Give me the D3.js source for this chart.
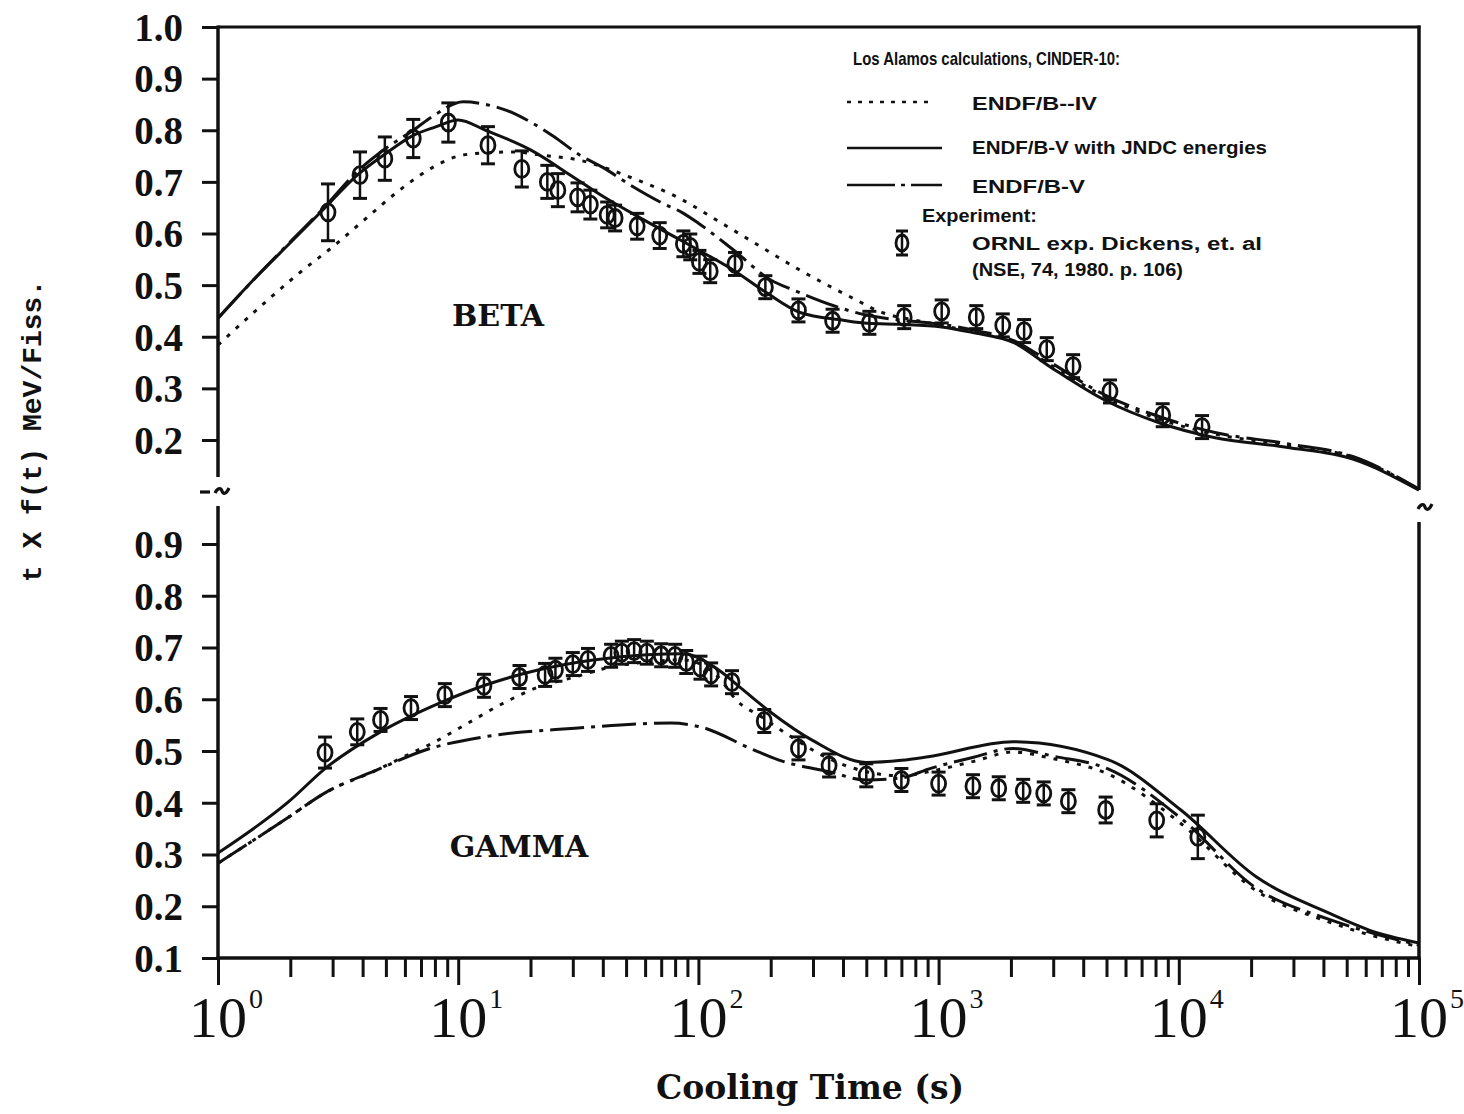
<!DOCTYPE html>
<html><head><meta charset="utf-8">
<script src="https://cdn.jsdelivr.net/npm/d3@7"></script>
<style>body{margin:0;background:#fff}svg{display:block}</style>
</head><body>
<svg id="chart" width="1464" height="1114"></svg>
<script>
// ---------------- DATA ----------------
// BETA panel calculations (t in s, value in MeV/fission * t)
const betaJndcT = [1, 1.5, 2, 2.7, 3.8, 5, 6.5, 8, 10, 13, 20, 30, 40, 60, 86, 100, 140, 194, 265, 400, 506, 700, 1030, 1360, 2070, 2930, 4930, 8330, 14000, 28000, 53000, 100000];
const betaJndcV = [0.436, 0.524, 0.582, 0.643, 0.713, 0.755, 0.79, 0.806, 0.82, 0.80, 0.762, 0.71, 0.672, 0.625, 0.585, 0.568, 0.529, 0.484, 0.447, 0.432, 0.426, 0.424, 0.419, 0.409, 0.388, 0.341, 0.277, 0.233, 0.205, 0.186, 0.163, 0.103];
const betaVT = [1, 1.5, 2, 2.7, 3.8, 5, 6.5, 8, 10.5, 13, 16, 20, 25, 32, 40, 52, 70, 86, 100, 140, 200, 250, 366, 500, 700, 1030, 1360, 2070, 2930, 4930, 8330, 14000, 28000, 53000, 100000];
const betaVV = [0.436, 0.524, 0.584, 0.645, 0.72, 0.765, 0.80, 0.83, 0.855, 0.85, 0.838, 0.816, 0.788, 0.752, 0.728, 0.694, 0.66, 0.64, 0.62, 0.568, 0.51, 0.49, 0.46, 0.442, 0.432, 0.424, 0.414, 0.392, 0.35, 0.287, 0.245, 0.215, 0.193, 0.168, 0.105];
const betaIVT = [1, 1.6, 2.2, 3, 4.2, 5.7, 7.9, 10, 12.7, 17, 22, 32, 52, 86, 120, 164, 265, 430, 590, 800, 1030, 1360, 2070, 2930, 4930, 8330, 14000, 28000, 53000, 100000];
const betaIVV = [0.384, 0.47, 0.525, 0.574, 0.632, 0.684, 0.729, 0.75, 0.756, 0.758, 0.752, 0.742, 0.709, 0.665, 0.625, 0.587, 0.529, 0.477, 0.446, 0.432, 0.422, 0.41, 0.39, 0.345, 0.284, 0.24, 0.212, 0.19, 0.167, 0.104];

// BETA experiment (ORNL, Dickens et al.)
const betaExpT = [2.87, 3.9, 4.95, 6.5, 9.1, 13.3, 18.4, 23.5, 26, 31.4, 35.5, 41.7, 45, 55.6, 69, 86.6, 92.5, 101, 112, 142, 190, 261, 362, 515, 719, 1030, 1435, 1850, 2270, 2820, 3630, 5170, 8570, 12500];
const betaExpV = [0.641, 0.713, 0.745, 0.784, 0.815, 0.771, 0.725, 0.70, 0.684, 0.67, 0.656, 0.636, 0.63, 0.614, 0.596, 0.58, 0.574, 0.545, 0.527, 0.541, 0.496, 0.451, 0.431, 0.427, 0.438, 0.449, 0.438, 0.422, 0.411, 0.376, 0.343, 0.294, 0.248, 0.225];
const betaExpErr = [0.055, 0.045, 0.042, 0.037, 0.038, 0.036, 0.035, 0.032, 0.032, 0.028, 0.028, 0.025, 0.025, 0.025, 0.025, 0.025, 0.025, 0.02, 0.02, 0.02, 0.02, 0.018, 0.015, 0.015, 0.015, 0.015, 0.015, 0.015, 0.015, 0.015, 0.015, 0.015, 0.015, 0.018];

// GAMMA panel calculations
const gamJndcT = [1, 1.98, 2.79, 4.67, 8.4, 13.1, 21.7, 36.5, 61, 86, 121, 150, 200, 300, 500, 700, 906, 2040, 5100, 10200, 21000, 42000, 62000, 100000];
const gamJndcV = [0.303, 0.403, 0.466, 0.535, 0.593, 0.628, 0.657, 0.676, 0.686, 0.688, 0.657, 0.622, 0.575, 0.52, 0.478, 0.482, 0.489, 0.518, 0.483, 0.386, 0.257, 0.187, 0.154, 0.129];
const gamVT = [1, 1.41, 1.98, 2.79, 4.67, 7.3, 13.1, 30.6, 77, 101, 170, 215, 350, 500, 700, 906, 1400, 2040, 3000, 5100, 10200, 21000, 42000, 62000, 100000];
const gamVV = [0.283, 0.328, 0.373, 0.419, 0.465, 0.502, 0.528, 0.544, 0.554, 0.547, 0.502, 0.483, 0.46, 0.444, 0.448, 0.465, 0.488, 0.505, 0.49, 0.465, 0.37, 0.235, 0.175, 0.15, 0.125];
const gamIVT = [1, 1.41, 1.98, 2.79, 4.67, 6, 7.8, 11, 15.5, 21.7, 30.6, 43, 61, 86, 121, 144, 183, 258, 350, 500, 700, 906, 1400, 2040, 3000, 5100, 10200, 21000, 42000, 62000, 100000];
const gamIVV = [0.283, 0.328, 0.373, 0.419, 0.465, 0.49, 0.515, 0.554, 0.593, 0.624, 0.643, 0.662, 0.672, 0.676, 0.643, 0.598, 0.566, 0.52, 0.485, 0.46, 0.452, 0.46, 0.48, 0.498, 0.485, 0.455, 0.36, 0.23, 0.17, 0.145, 0.122];

// GAMMA experiment
const gamExpT = [2.79, 3.8, 4.75, 6.36, 8.8, 12.8, 18, 23, 25.4, 30, 34.7, 43.3, 48, 54, 61, 70, 80, 89, 102, 113, 138, 188, 261, 350, 500, 700, 1000, 1390, 1780, 2250, 2740, 3470, 4960, 8090, 12000];
const gamExpV = [0.497, 0.537, 0.56, 0.583, 0.608, 0.626, 0.643, 0.647, 0.657, 0.668, 0.676, 0.684, 0.69, 0.693, 0.69, 0.685, 0.684, 0.672, 0.661, 0.648, 0.633, 0.558, 0.505, 0.472, 0.453, 0.444, 0.437, 0.432, 0.428, 0.423, 0.418, 0.403, 0.386, 0.366, 0.334];
const gamExpErr = [0.03, 0.025, 0.022, 0.022, 0.02, 0.015, 0.015, 0.015, 0.015, 0.015, 0.015, 0.015, 0.015, 0.015, 0.015, 0.015, 0.015, 0.015, 0.015, 0.015, 0.015, 0.018, 0.018, 0.015, 0.015, 0.015, 0.015, 0.015, 0.015, 0.015, 0.015, 0.015, 0.025, 0.032, 0.042];

// Axis ticks / labels
const topTicks = [0.2, 0.3, 0.4, 0.5, 0.6, 0.7, 0.8, 0.9, 1.0];
const botTicks = [0.1, 0.2, 0.3, 0.4, 0.5, 0.6, 0.7, 0.8, 0.9];
const decades = [0, 1, 2, 3, 4, 5];
const xTitle = "Cooling Time (s)";
const yTitle = "t X f(t) MeV/Fiss.";
const legendTitle = "Los Alamos calculations, CINDER-10:";
const seriesNames = ["ENDF/B--IV", "ENDF/B-V with JNDC energies", "ENDF/B-V"];
const expLines = ["Experiment:", "ORNL exp. Dickens, et. al", "(NSE, 74, 1980. p. 106)"];
const panelNames = ["BETA", "GAMMA"];

// ---------------- CHART ----------------
const svg = d3.select("#chart");
svg.append("rect").attr("width", 1464).attr("height", 1114).attr("fill", "#fff");

const X0 = 218, X1 = 1419;
const x = d3.scaleLog().domain([1, 1e5]).range([X0, X1]);
const yTop = d3.scaleLinear().domain([0.2, 1.0]).range([440, 27]);
const yBot = d3.scaleLinear().domain([0.1, 0.9]).range([958, 544]);

const defs = svg.append("defs");
defs.append("clipPath").attr("id", "clipTop").append("rect")
  .attr("x", X0).attr("y", 20).attr("width", X1 - X0).attr("height", 472);
defs.append("clipPath").attr("id", "clipBot").append("rect")
  .attr("x", X0).attr("y", 500).attr("width", X1 - X0).attr("height", 458);

const ink = "#111";
const styles = {
  iv:   {dash: "4,8", w: 3},
  jndc: {dash: null, w: 3},
  v:    {dash: "34,7,4,7", w: 3}
};

function zip(t, v) { return t.map((d, i) => [d, v[i]]); }

function drawLine(g, yS, data, st) {
  const line = d3.line().x(d => x(d[0])).y(d => yS(d[1])).curve(d3.curveMonotoneX);
  g.append("path").datum(data).attr("d", line)
    .attr("fill", "none").attr("stroke", ink).attr("stroke-width", st.w)
    .attr("stroke-dasharray", st.dash).attr("stroke-linejoin", "round");
}

function drawExp(g, yS, T, V, E) {
  const rx = 7, ry = 8.5;
  const pts = T.map((t, i) => ({t, v: V[i], e: E[i]}));
  const m = g.selectAll("g.pt").data(pts).enter().append("g").attr("class", "pt");
  m.each(function(d) {
    const s = d3.select(this);
    const cx = x(d.t), cy = yS(d.v);
    const eup = Math.max(cy - yS(d.v + d.e), ry + 3);
    const edn = Math.max(yS(d.v - d.e) - cy, ry + 3);
    s.append("line").attr("x1", cx).attr("x2", cx).attr("y1", cy - eup).attr("y2", cy + edn)
      .attr("stroke", ink).attr("stroke-width", 2.5);
    s.append("line").attr("x1", cx - 7).attr("x2", cx + 7).attr("y1", cy - eup).attr("y2", cy - eup)
      .attr("stroke", ink).attr("stroke-width", 3);
    s.append("line").attr("x1", cx - 7).attr("x2", cx + 7).attr("y1", cy + edn).attr("y2", cy + edn)
      .attr("stroke", ink).attr("stroke-width", 3);
    s.append("ellipse").attr("cx", cx).attr("cy", cy).attr("rx", rx).attr("ry", ry)
      .attr("fill", "none").attr("stroke", ink).attr("stroke-width", 2.8);
  });
}

// ---- Top panel ----
const gTop = svg.append("g").attr("clip-path", "url(#clipTop)");
drawLine(gTop, yTop, zip(betaIVT, betaIVV), styles.iv);
drawLine(gTop, yTop, zip(betaVT, betaVV), styles.v);
drawLine(gTop, yTop, zip(betaJndcT, betaJndcV), styles.jndc);
drawExp(gTop, yTop, betaExpT, betaExpV, betaExpErr);

// ---- Bottom panel ----
const gBot = svg.append("g").attr("clip-path", "url(#clipBot)");
drawLine(gBot, yBot, zip(gamIVT, gamIVV), styles.iv);
drawLine(gBot, yBot, zip(gamVT, gamVV), styles.v);
drawLine(gBot, yBot, zip(gamJndcT, gamJndcV), styles.jndc);
drawExp(gBot, yBot, gamExpT, gamExpV, gamExpErr);

// ---- Axes / frame ----
const axW = 3.5;
function vline(xx, y1, y2) {
  svg.append("line").attr("x1", xx).attr("x2", xx).attr("y1", y1).attr("y2", y2)
    .attr("stroke", ink).attr("stroke-width", axW);
}
svg.append("line").attr("x1", X0).attr("x2", X1 + 1.5).attr("y1", yTop(1.0)).attr("y2", yTop(1.0))
  .attr("stroke", ink).attr("stroke-width", 3);
vline(X0, yTop(1.0) - 1.5, 477);
vline(X1, yTop(1.0) - 1.5, 490);
vline(X0, 506, yBot(0.1) + 1.5);
vline(X1, 522, yBot(0.1) + 1.5);
svg.append("line").attr("x1", X0 - 1.5).attr("x2", X1 + 1.5).attr("y1", yBot(0.1)).attr("y2", yBot(0.1))
  .attr("stroke", ink).attr("stroke-width", axW);

// axis break marks
function tilde(cx, cy) {
  svg.append("path")
    .attr("d", `M${cx - 7},${cy + 2} C${cx - 4},${cy - 4} ${cx - 1},${cy - 3} ${cx},${cy} S${cx + 4},${cy + 4} ${cx + 7},${cy - 3}`)
    .attr("fill", "none").attr("stroke", ink).attr("stroke-width", 3.2);
}
svg.append("line").attr("x1", 200).attr("x2", 210).attr("y1", 492).attr("y2", 492)
  .attr("stroke", ink).attr("stroke-width", 3.2);
tilde(X0 + 4, 491);
tilde(X1 + 6, 507);

const tickFont = "'Liberation Serif', 'Times New Roman', serif";
function yAxis(yS, ticks) {
  const ax = d3.axisLeft(yS).tickValues(ticks).tickSize(16).tickPadding(19).tickFormat(d3.format(".1f"));
  const g = svg.append("g").attr("transform", `translate(${X0},0)`).call(ax);
  g.select(".domain").remove();
  g.selectAll(".tick line").attr("stroke", ink).attr("stroke-width", 3);
  g.selectAll(".tick text").attr("fill", ink).style("font-family", tickFont)
    .style("font-weight", "bold").style("font-size", "39px").attr("dy", "0.34em");
}
yAxis(yTop, topTicks);
yAxis(yBot, botTicks);

// x axis ticks (major + minor)
const minorT = [];
decades.slice(0, -1).forEach(d => { for (let k = 2; k <= 9; k++) minorT.push(k * Math.pow(10, d)); });
const majorT = decades.map(d => Math.pow(10, d));
const gx = svg.append("g").attr("transform", `translate(0,${yBot(0.1)})`);
gx.call(d3.axisBottom(x).tickValues(minorT).tickSize(19).tickFormat(""));
gx.select(".domain").remove();
gx.selectAll(".tick line").attr("stroke", ink).attr("stroke-width", 3);
const gx2 = svg.append("g").attr("transform", `translate(0,${yBot(0.1)})`);
gx2.call(d3.axisBottom(x).tickValues(majorT).tickSize(27).tickFormat(""));
gx2.select(".domain").remove();
gx2.selectAll(".tick line").attr("stroke", ink).attr("stroke-width", 3);

// decade labels 10^n
const lab = svg.append("g");
decades.forEach(d => {
  const t = lab.append("text").attr("x", x(Math.pow(10, d)) - 29).attr("y", 1037)
    .attr("fill", ink).style("font-family", tickFont).style("font-size", "58px");
  t.append("tspan").text("10");
  t.append("tspan").attr("dy", -29).attr("dx", 2).style("font-size", "28px").text(d);
});

// axis titles
svg.append("text").attr("x", 810).attr("y", 1099).attr("text-anchor", "middle")
  .attr("fill", ink).style("font-family", "'DejaVu Serif', serif").style("font-weight", "bold")
  .style("font-size", "33px").text(xTitle);
svg.append("text").attr("transform", "translate(41,431) rotate(-90)").attr("text-anchor", "middle")
  .attr("fill", ink).style("font-family", "'Liberation Mono', monospace").style("font-weight", "bold")
  .style("font-size", "28px").text(yTitle);

// panel labels
svg.append("text").attr("x", 498).attr("y", 326).attr("text-anchor", "middle").attr("fill", ink)
  .style("font-family", "'DejaVu Serif', serif").style("font-weight", "bold").style("font-size", "30px")
  .text(panelNames[0]);
svg.append("text").attr("x", 519).attr("y", 857).attr("text-anchor", "middle").attr("fill", ink)
  .style("font-family", "'DejaVu Serif', serif").style("font-weight", "bold").style("font-size", "30px")
  .text(panelNames[1]);

// ---- Legend ----
const leg = svg.append("g").style("font-family", "'Liberation Sans', Arial, sans-serif")
  .style("font-weight", "bold").attr("fill", ink);
function legText(str, lx, ly, len, size) {
  leg.append("text").attr("x", lx).attr("y", ly).attr("textLength", len)
    .attr("lengthAdjust", "spacingAndGlyphs").style("font-size", size + "px").text(str);
}
legText(legendTitle, 853, 65, 267, 19);
const legRows = [
  {name: seriesNames[0], st: styles.iv, y: 102, x2: 933, textY: 110, len: 125},
  {name: seriesNames[1], st: styles.jndc, y: 148, x2: 942, textY: 154, len: 295},
  {name: seriesNames[2], st: styles.v, y: 185, x2: 942, textY: 193, len: 113}
];
legRows.forEach(r => {
  leg.append("line").attr("x1", 847).attr("x2", r.x2).attr("y1", r.y).attr("y2", r.y)
    .attr("stroke", ink).attr("stroke-width", 2.6)
    .attr("stroke-dasharray", r.st === styles.iv ? "4,7" : (r.st === styles.v ? "48,6,4,6" : null));
  legText(r.name, 972, r.textY, r.len, 19);
});
legText(expLines[0], 922, 222, 115, 18);
legText(expLines[1], 972, 250, 290, 18);
legText(expLines[2], 972, 276, 211, 18);
// legend marker
(function() {
  const cx = 902, cy = 243;
  leg.append("line").attr("x1", cx).attr("x2", cx).attr("y1", cy - 12).attr("y2", cy + 12).attr("stroke", ink).attr("stroke-width", 2.5);
  leg.append("line").attr("x1", cx - 6).attr("x2", cx + 6).attr("y1", cy - 12).attr("y2", cy - 12).attr("stroke", ink).attr("stroke-width", 3);
  leg.append("line").attr("x1", cx - 6).attr("x2", cx + 6).attr("y1", cy + 12).attr("y2", cy + 12).attr("stroke", ink).attr("stroke-width", 3);
  leg.append("ellipse").attr("cx", cx).attr("cy", cy).attr("rx", 6).attr("ry", 8)
    .attr("fill", "none").attr("stroke", ink).attr("stroke-width", 2.8);
})();
</script>
</body></html>
